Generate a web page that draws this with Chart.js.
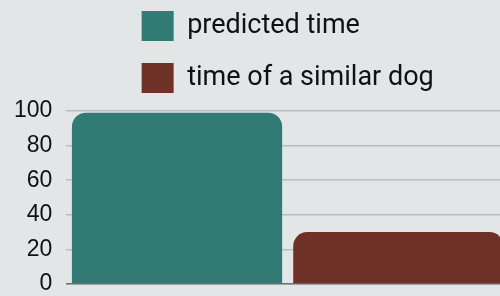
<!DOCTYPE html>
<html>
<head>
<meta charset="utf-8">
<script src="https://cdn.jsdelivr.net/npm/chart.js@4.4.0/dist/chart.umd.min.js"></script>
<style>
  html, body { margin: 0; padding: 0; background: #e3e6e6; overflow: hidden; }
  #wrap { width: 509px; height: 296px; position: relative; }
</style>
</head>
<body>
<div id="wrap"><canvas id="chart"></canvas></div>
<script>
// Values
const categories = [''];
const predictedTime = [99];
const similarDogTime = [30];
const seriesLabels = ['predicted time', 'time of a similar dog'];
const seriesColors = ['#327b74', '#6f3027'];

// Keep both legend rows starting at the same x and nudge the legend up
const legendFix = {
    id: 'legendFix',
    afterLayout(chart) {
        const lg = chart.legend;
        if (!lg || !lg.lineWidths) return;
        const w = Math.max(...lg.lineWidths);
        lg.lineWidths = lg.lineWidths.map(() => w);
        lg.left = chart.chartArea.left;
        lg.right = chart.chartArea.right;
        lg.top -= 8;
        lg.bottom -= 8;
    }
};

document.addEventListener('DOMContentLoaded', () => {
    new Chart(document.getElementById('chart'), {
        type: 'bar',
        data: {
            labels: categories,
            datasets: [
                {
                    label: seriesLabels[0],
                    data: predictedTime,
                    backgroundColor: seriesColors[0],
                    borderRadius: 14
                },
                {
                    label: seriesLabels[1],
                    data: similarDogTime,
                    backgroundColor: seriesColors[1],
                    borderRadius: 14
                }
            ]
        },
        options: {
            responsive: true,
            maintainAspectRatio: false,
            animation: false,
            barPercentage: 0.95,
            categoryPercentage: 1.0,
            layout: {
                padding: { left: 0, right: 0, top: -3, bottom: 12 }
            },
            plugins: {
                legend: {
                    position: 'top',
                    labels: {
                        boxWidth: 32,
                        boxHeight: 30,
                        padding: 22,
                        color: '#111',
                        font: { family: 'Roboto', size: 27 }
                    }
                },
                tooltip: { enabled: false }
            },
            scales: {
                x: {
                    grid: { display: false, drawTicks: false },
                    ticks: { display: false },
                    border: { display: true, color: '#707272', width: 1.5 }
                },
                y: {
                    beginAtZero: true,
                    min: 0,
                    max: 100,
                    ticks: {
                        stepSize: 20,
                        padding: 14,
                        color: '#111',
                        font: { family: 'Liberation Sans', size: 23 }
                    },
                    grid: { color: '#b9bdbd', lineWidth: 1.5, drawTicks: false },
                    border: { display: false },
                    afterFit(scale) {
                        // tick padding should only space labels sideways
                        scale.paddingBottom = 10;
                    }
                }
            }
        },
        plugins: [legendFix]
    });
});
</script>
</body>
</html>
